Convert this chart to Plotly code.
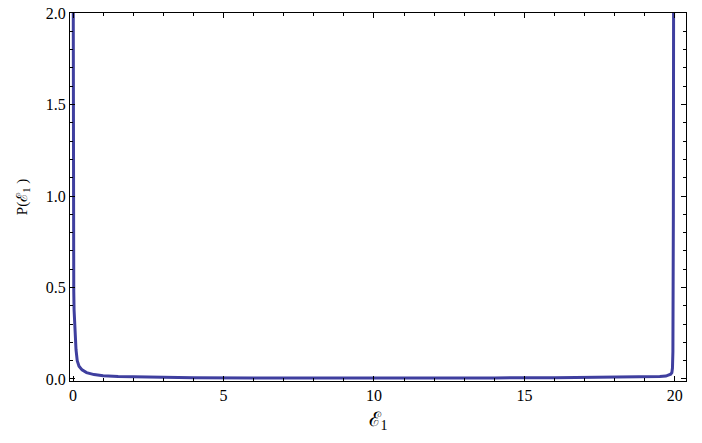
import plotly.graph_objects as go

# valores (pico em 0 e em ~19.95)
eps = [0.002, 0.005, 0.008, 0.012, 0.018, 0.025, 0.035, 0.05, 0.07, 0.1,
       0.14, 0.2, 0.3, 0.45, 0.7, 1.0, 1.5, 2.5, 4, 6, 8, 10,
       12, 14, 16, 17.5, 18.5, 19.2, 19.5, 19.7, 19.8, 19.86, 19.9,
       19.92, 19.935, 19.945, 19.95, 19.955, 19.96]
prob = [2.6, 1.6, 1.1, 0.8, 0.6, 0.48, 0.38, 0.3, 0.22, 0.16,
        0.1, 0.07, 0.05, 0.035, 0.024, 0.018, 0.013, 0.009, 0.007, 0.006, 0.005, 0.005,
        0.005, 0.006, 0.007, 0.008, 0.009, 0.011, 0.013, 0.016, 0.02, 0.026, 0.035,
        0.06, 0.15, 0.4, 0.9, 1.6, 2.5]
y_ticks = [0.0, 0.5, 1.0, 1.5, 2.0]
x_ticks = [0, 5, 10, 15, 20]

FONTE = "Liberation Serif"
COR_CURVA = "#3F3F9F"

fig = go.Figure()
fig.add_trace(
    go.Scatter(
        x=eps,
        y=prob,
        mode="lines",
        line=dict(color=COR_CURVA, width=3),
        hoverinfo="skip",
    )
)

eixo = dict(
    showline=True,
    linecolor="black",
    linewidth=1,
    mirror="allticks",
    ticks="inside",
    ticklen=5,
    tickcolor="black",
    showgrid=False,
    zeroline=False,
    automargin=False,
    ticklabeloverflow="allow",
    tickfont=dict(family=FONTE, size=16, color="black"),
)

fig.update_xaxes(
    **eixo,
    range=[-0.1, 20.37],
    tickvals=x_ticks,
    minor=dict(tick0=0, dtick=1, ticks="inside", ticklen=3, tickcolor="black"),
    title=dict(text="ℰ<sub>1</sub>", font=dict(family=FONTE, size=20, color="black"), standoff=8),
)
fig.update_yaxes(
    **eixo,
    range=[-0.011, 2.0002],
    tickvals=y_ticks,
    tickformat=".1f",
    minor=dict(tick0=0, dtick=0.1, ticks="inside", ticklen=3, tickcolor="black"),
    title=dict(text="P(ℰ<sub>1</sub> )", font=dict(family=FONTE, size=15, color="black"), standoff=14),
)

fig.update_layout(
    width=702,
    height=443,
    margin=dict(l=70, r=16, t=13, b=62),
    plot_bgcolor="white",
    paper_bgcolor="white",
    font=dict(family=FONTE, color="black"),
    showlegend=False,
)

# tira a margem padrão de 8px do body para a figura ocupar a janela toda
fig.write_html(
    "out.html",
    config={"displayModeBar": False},
    post_script="document.body.style.margin = '0';",
)
